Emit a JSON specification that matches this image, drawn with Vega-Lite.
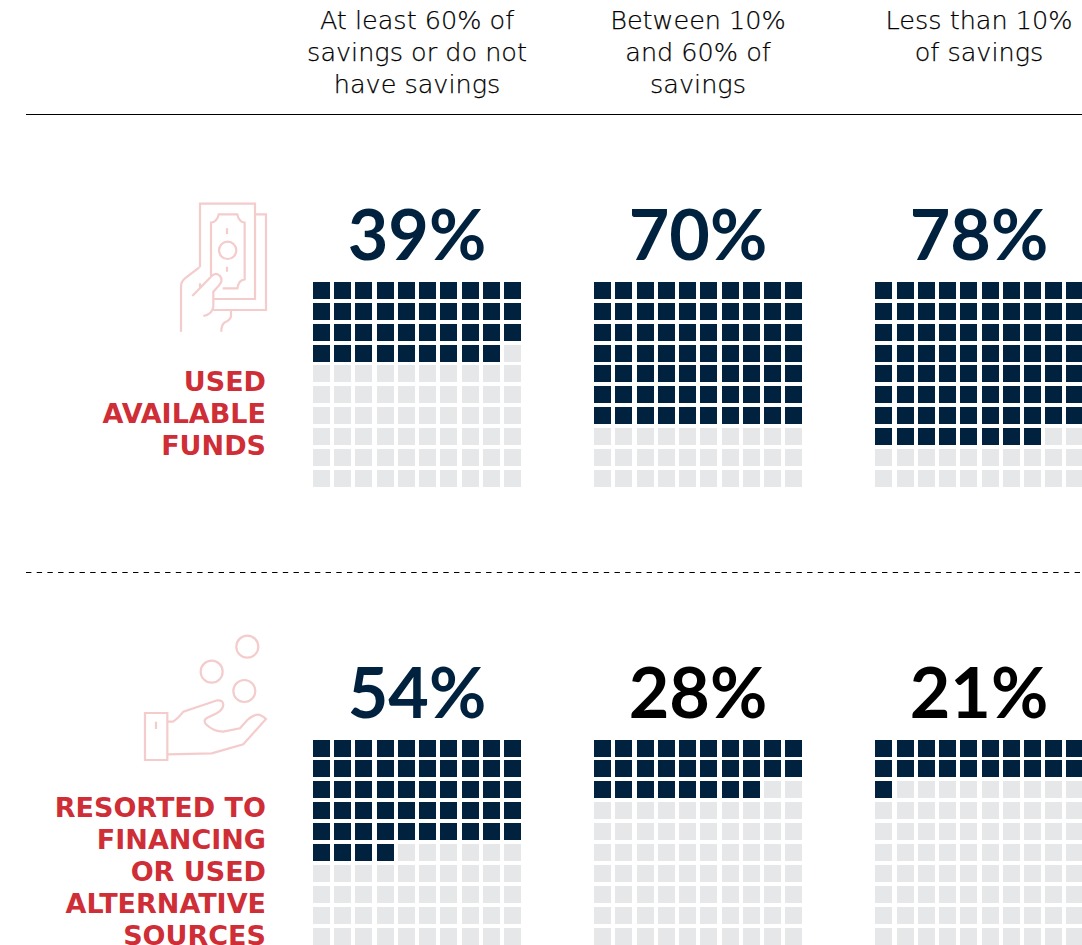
{
"$schema":"https://vega.github.io/schema/vega-lite/v6.json",
"width":1082,"height":945,"padding":0,"autosize":{"type":"none"},
"background":"white",
"config":{"view":{"stroke":null},"axis":{"disable":true},"legend":{"disable":true}},
"datasets":{
"shares":[
{"behaviour":"Used available funds","block":0,"savings":"At least 60% of savings or do not have savings","panel":0,"share":39},
{"behaviour":"Used available funds","block":0,"savings":"Between 10% and 60% of savings","panel":1,"share":70},
{"behaviour":"Used available funds","block":0,"savings":"Less than 10% of savings","panel":2,"share":78},
{"behaviour":"Resorted to financing or used alternative sources","block":1,"savings":"At least 60% of savings or do not have savings","panel":0,"share":54},
{"behaviour":"Resorted to financing or used alternative sources","block":1,"savings":"Between 10% and 60% of savings","panel":1,"share":28},
{"behaviour":"Resorted to financing or used alternative sources","block":1,"savings":"Less than 10% of savings","panel":2,"share":21}
],
"cells":[
{"block":0,"panel":0,"row":0,"col":0,"filled":"yes"},{"block":0,"panel":0,"row":0,"col":1,"filled":"yes"},{"block":0,"panel":0,"row":0,"col":2,"filled":"yes"},{"block":0,"panel":0,"row":0,"col":3,"filled":"yes"},{"block":0,"panel":0,"row":0,"col":4,"filled":"yes"},{"block":0,"panel":0,"row":0,"col":5,"filled":"yes"},{"block":0,"panel":0,"row":0,"col":6,"filled":"yes"},{"block":0,"panel":0,"row":0,"col":7,"filled":"yes"},{"block":0,"panel":0,"row":0,"col":8,"filled":"yes"},{"block":0,"panel":0,"row":0,"col":9,"filled":"yes"},
{"block":0,"panel":0,"row":1,"col":0,"filled":"yes"},{"block":0,"panel":0,"row":1,"col":1,"filled":"yes"},{"block":0,"panel":0,"row":1,"col":2,"filled":"yes"},{"block":0,"panel":0,"row":1,"col":3,"filled":"yes"},{"block":0,"panel":0,"row":1,"col":4,"filled":"yes"},{"block":0,"panel":0,"row":1,"col":5,"filled":"yes"},{"block":0,"panel":0,"row":1,"col":6,"filled":"yes"},{"block":0,"panel":0,"row":1,"col":7,"filled":"yes"},{"block":0,"panel":0,"row":1,"col":8,"filled":"yes"},{"block":0,"panel":0,"row":1,"col":9,"filled":"yes"},
{"block":0,"panel":0,"row":2,"col":0,"filled":"yes"},{"block":0,"panel":0,"row":2,"col":1,"filled":"yes"},{"block":0,"panel":0,"row":2,"col":2,"filled":"yes"},{"block":0,"panel":0,"row":2,"col":3,"filled":"yes"},{"block":0,"panel":0,"row":2,"col":4,"filled":"yes"},{"block":0,"panel":0,"row":2,"col":5,"filled":"yes"},{"block":0,"panel":0,"row":2,"col":6,"filled":"yes"},{"block":0,"panel":0,"row":2,"col":7,"filled":"yes"},{"block":0,"panel":0,"row":2,"col":8,"filled":"yes"},{"block":0,"panel":0,"row":2,"col":9,"filled":"yes"},
{"block":0,"panel":0,"row":3,"col":0,"filled":"yes"},{"block":0,"panel":0,"row":3,"col":1,"filled":"yes"},{"block":0,"panel":0,"row":3,"col":2,"filled":"yes"},{"block":0,"panel":0,"row":3,"col":3,"filled":"yes"},{"block":0,"panel":0,"row":3,"col":4,"filled":"yes"},{"block":0,"panel":0,"row":3,"col":5,"filled":"yes"},{"block":0,"panel":0,"row":3,"col":6,"filled":"yes"},{"block":0,"panel":0,"row":3,"col":7,"filled":"yes"},{"block":0,"panel":0,"row":3,"col":8,"filled":"yes"},{"block":0,"panel":0,"row":3,"col":9,"filled":"no"},
{"block":0,"panel":0,"row":4,"col":0,"filled":"no"},{"block":0,"panel":0,"row":4,"col":1,"filled":"no"},{"block":0,"panel":0,"row":4,"col":2,"filled":"no"},{"block":0,"panel":0,"row":4,"col":3,"filled":"no"},{"block":0,"panel":0,"row":4,"col":4,"filled":"no"},{"block":0,"panel":0,"row":4,"col":5,"filled":"no"},{"block":0,"panel":0,"row":4,"col":6,"filled":"no"},{"block":0,"panel":0,"row":4,"col":7,"filled":"no"},{"block":0,"panel":0,"row":4,"col":8,"filled":"no"},{"block":0,"panel":0,"row":4,"col":9,"filled":"no"},
{"block":0,"panel":0,"row":5,"col":0,"filled":"no"},{"block":0,"panel":0,"row":5,"col":1,"filled":"no"},{"block":0,"panel":0,"row":5,"col":2,"filled":"no"},{"block":0,"panel":0,"row":5,"col":3,"filled":"no"},{"block":0,"panel":0,"row":5,"col":4,"filled":"no"},{"block":0,"panel":0,"row":5,"col":5,"filled":"no"},{"block":0,"panel":0,"row":5,"col":6,"filled":"no"},{"block":0,"panel":0,"row":5,"col":7,"filled":"no"},{"block":0,"panel":0,"row":5,"col":8,"filled":"no"},{"block":0,"panel":0,"row":5,"col":9,"filled":"no"},
{"block":0,"panel":0,"row":6,"col":0,"filled":"no"},{"block":0,"panel":0,"row":6,"col":1,"filled":"no"},{"block":0,"panel":0,"row":6,"col":2,"filled":"no"},{"block":0,"panel":0,"row":6,"col":3,"filled":"no"},{"block":0,"panel":0,"row":6,"col":4,"filled":"no"},{"block":0,"panel":0,"row":6,"col":5,"filled":"no"},{"block":0,"panel":0,"row":6,"col":6,"filled":"no"},{"block":0,"panel":0,"row":6,"col":7,"filled":"no"},{"block":0,"panel":0,"row":6,"col":8,"filled":"no"},{"block":0,"panel":0,"row":6,"col":9,"filled":"no"},
{"block":0,"panel":0,"row":7,"col":0,"filled":"no"},{"block":0,"panel":0,"row":7,"col":1,"filled":"no"},{"block":0,"panel":0,"row":7,"col":2,"filled":"no"},{"block":0,"panel":0,"row":7,"col":3,"filled":"no"},{"block":0,"panel":0,"row":7,"col":4,"filled":"no"},{"block":0,"panel":0,"row":7,"col":5,"filled":"no"},{"block":0,"panel":0,"row":7,"col":6,"filled":"no"},{"block":0,"panel":0,"row":7,"col":7,"filled":"no"},{"block":0,"panel":0,"row":7,"col":8,"filled":"no"},{"block":0,"panel":0,"row":7,"col":9,"filled":"no"},
{"block":0,"panel":0,"row":8,"col":0,"filled":"no"},{"block":0,"panel":0,"row":8,"col":1,"filled":"no"},{"block":0,"panel":0,"row":8,"col":2,"filled":"no"},{"block":0,"panel":0,"row":8,"col":3,"filled":"no"},{"block":0,"panel":0,"row":8,"col":4,"filled":"no"},{"block":0,"panel":0,"row":8,"col":5,"filled":"no"},{"block":0,"panel":0,"row":8,"col":6,"filled":"no"},{"block":0,"panel":0,"row":8,"col":7,"filled":"no"},{"block":0,"panel":0,"row":8,"col":8,"filled":"no"},{"block":0,"panel":0,"row":8,"col":9,"filled":"no"},
{"block":0,"panel":0,"row":9,"col":0,"filled":"no"},{"block":0,"panel":0,"row":9,"col":1,"filled":"no"},{"block":0,"panel":0,"row":9,"col":2,"filled":"no"},{"block":0,"panel":0,"row":9,"col":3,"filled":"no"},{"block":0,"panel":0,"row":9,"col":4,"filled":"no"},{"block":0,"panel":0,"row":9,"col":5,"filled":"no"},{"block":0,"panel":0,"row":9,"col":6,"filled":"no"},{"block":0,"panel":0,"row":9,"col":7,"filled":"no"},{"block":0,"panel":0,"row":9,"col":8,"filled":"no"},{"block":0,"panel":0,"row":9,"col":9,"filled":"no"},
{"block":0,"panel":1,"row":0,"col":0,"filled":"yes"},{"block":0,"panel":1,"row":0,"col":1,"filled":"yes"},{"block":0,"panel":1,"row":0,"col":2,"filled":"yes"},{"block":0,"panel":1,"row":0,"col":3,"filled":"yes"},{"block":0,"panel":1,"row":0,"col":4,"filled":"yes"},{"block":0,"panel":1,"row":0,"col":5,"filled":"yes"},{"block":0,"panel":1,"row":0,"col":6,"filled":"yes"},{"block":0,"panel":1,"row":0,"col":7,"filled":"yes"},{"block":0,"panel":1,"row":0,"col":8,"filled":"yes"},{"block":0,"panel":1,"row":0,"col":9,"filled":"yes"},
{"block":0,"panel":1,"row":1,"col":0,"filled":"yes"},{"block":0,"panel":1,"row":1,"col":1,"filled":"yes"},{"block":0,"panel":1,"row":1,"col":2,"filled":"yes"},{"block":0,"panel":1,"row":1,"col":3,"filled":"yes"},{"block":0,"panel":1,"row":1,"col":4,"filled":"yes"},{"block":0,"panel":1,"row":1,"col":5,"filled":"yes"},{"block":0,"panel":1,"row":1,"col":6,"filled":"yes"},{"block":0,"panel":1,"row":1,"col":7,"filled":"yes"},{"block":0,"panel":1,"row":1,"col":8,"filled":"yes"},{"block":0,"panel":1,"row":1,"col":9,"filled":"yes"},
{"block":0,"panel":1,"row":2,"col":0,"filled":"yes"},{"block":0,"panel":1,"row":2,"col":1,"filled":"yes"},{"block":0,"panel":1,"row":2,"col":2,"filled":"yes"},{"block":0,"panel":1,"row":2,"col":3,"filled":"yes"},{"block":0,"panel":1,"row":2,"col":4,"filled":"yes"},{"block":0,"panel":1,"row":2,"col":5,"filled":"yes"},{"block":0,"panel":1,"row":2,"col":6,"filled":"yes"},{"block":0,"panel":1,"row":2,"col":7,"filled":"yes"},{"block":0,"panel":1,"row":2,"col":8,"filled":"yes"},{"block":0,"panel":1,"row":2,"col":9,"filled":"yes"},
{"block":0,"panel":1,"row":3,"col":0,"filled":"yes"},{"block":0,"panel":1,"row":3,"col":1,"filled":"yes"},{"block":0,"panel":1,"row":3,"col":2,"filled":"yes"},{"block":0,"panel":1,"row":3,"col":3,"filled":"yes"},{"block":0,"panel":1,"row":3,"col":4,"filled":"yes"},{"block":0,"panel":1,"row":3,"col":5,"filled":"yes"},{"block":0,"panel":1,"row":3,"col":6,"filled":"yes"},{"block":0,"panel":1,"row":3,"col":7,"filled":"yes"},{"block":0,"panel":1,"row":3,"col":8,"filled":"yes"},{"block":0,"panel":1,"row":3,"col":9,"filled":"yes"},
{"block":0,"panel":1,"row":4,"col":0,"filled":"yes"},{"block":0,"panel":1,"row":4,"col":1,"filled":"yes"},{"block":0,"panel":1,"row":4,"col":2,"filled":"yes"},{"block":0,"panel":1,"row":4,"col":3,"filled":"yes"},{"block":0,"panel":1,"row":4,"col":4,"filled":"yes"},{"block":0,"panel":1,"row":4,"col":5,"filled":"yes"},{"block":0,"panel":1,"row":4,"col":6,"filled":"yes"},{"block":0,"panel":1,"row":4,"col":7,"filled":"yes"},{"block":0,"panel":1,"row":4,"col":8,"filled":"yes"},{"block":0,"panel":1,"row":4,"col":9,"filled":"yes"},
{"block":0,"panel":1,"row":5,"col":0,"filled":"yes"},{"block":0,"panel":1,"row":5,"col":1,"filled":"yes"},{"block":0,"panel":1,"row":5,"col":2,"filled":"yes"},{"block":0,"panel":1,"row":5,"col":3,"filled":"yes"},{"block":0,"panel":1,"row":5,"col":4,"filled":"yes"},{"block":0,"panel":1,"row":5,"col":5,"filled":"yes"},{"block":0,"panel":1,"row":5,"col":6,"filled":"yes"},{"block":0,"panel":1,"row":5,"col":7,"filled":"yes"},{"block":0,"panel":1,"row":5,"col":8,"filled":"yes"},{"block":0,"panel":1,"row":5,"col":9,"filled":"yes"},
{"block":0,"panel":1,"row":6,"col":0,"filled":"yes"},{"block":0,"panel":1,"row":6,"col":1,"filled":"yes"},{"block":0,"panel":1,"row":6,"col":2,"filled":"yes"},{"block":0,"panel":1,"row":6,"col":3,"filled":"yes"},{"block":0,"panel":1,"row":6,"col":4,"filled":"yes"},{"block":0,"panel":1,"row":6,"col":5,"filled":"yes"},{"block":0,"panel":1,"row":6,"col":6,"filled":"yes"},{"block":0,"panel":1,"row":6,"col":7,"filled":"yes"},{"block":0,"panel":1,"row":6,"col":8,"filled":"yes"},{"block":0,"panel":1,"row":6,"col":9,"filled":"yes"},
{"block":0,"panel":1,"row":7,"col":0,"filled":"no"},{"block":0,"panel":1,"row":7,"col":1,"filled":"no"},{"block":0,"panel":1,"row":7,"col":2,"filled":"no"},{"block":0,"panel":1,"row":7,"col":3,"filled":"no"},{"block":0,"panel":1,"row":7,"col":4,"filled":"no"},{"block":0,"panel":1,"row":7,"col":5,"filled":"no"},{"block":0,"panel":1,"row":7,"col":6,"filled":"no"},{"block":0,"panel":1,"row":7,"col":7,"filled":"no"},{"block":0,"panel":1,"row":7,"col":8,"filled":"no"},{"block":0,"panel":1,"row":7,"col":9,"filled":"no"},
{"block":0,"panel":1,"row":8,"col":0,"filled":"no"},{"block":0,"panel":1,"row":8,"col":1,"filled":"no"},{"block":0,"panel":1,"row":8,"col":2,"filled":"no"},{"block":0,"panel":1,"row":8,"col":3,"filled":"no"},{"block":0,"panel":1,"row":8,"col":4,"filled":"no"},{"block":0,"panel":1,"row":8,"col":5,"filled":"no"},{"block":0,"panel":1,"row":8,"col":6,"filled":"no"},{"block":0,"panel":1,"row":8,"col":7,"filled":"no"},{"block":0,"panel":1,"row":8,"col":8,"filled":"no"},{"block":0,"panel":1,"row":8,"col":9,"filled":"no"},
{"block":0,"panel":1,"row":9,"col":0,"filled":"no"},{"block":0,"panel":1,"row":9,"col":1,"filled":"no"},{"block":0,"panel":1,"row":9,"col":2,"filled":"no"},{"block":0,"panel":1,"row":9,"col":3,"filled":"no"},{"block":0,"panel":1,"row":9,"col":4,"filled":"no"},{"block":0,"panel":1,"row":9,"col":5,"filled":"no"},{"block":0,"panel":1,"row":9,"col":6,"filled":"no"},{"block":0,"panel":1,"row":9,"col":7,"filled":"no"},{"block":0,"panel":1,"row":9,"col":8,"filled":"no"},{"block":0,"panel":1,"row":9,"col":9,"filled":"no"},
{"block":0,"panel":2,"row":0,"col":0,"filled":"yes"},{"block":0,"panel":2,"row":0,"col":1,"filled":"yes"},{"block":0,"panel":2,"row":0,"col":2,"filled":"yes"},{"block":0,"panel":2,"row":0,"col":3,"filled":"yes"},{"block":0,"panel":2,"row":0,"col":4,"filled":"yes"},{"block":0,"panel":2,"row":0,"col":5,"filled":"yes"},{"block":0,"panel":2,"row":0,"col":6,"filled":"yes"},{"block":0,"panel":2,"row":0,"col":7,"filled":"yes"},{"block":0,"panel":2,"row":0,"col":8,"filled":"yes"},{"block":0,"panel":2,"row":0,"col":9,"filled":"yes"},
{"block":0,"panel":2,"row":1,"col":0,"filled":"yes"},{"block":0,"panel":2,"row":1,"col":1,"filled":"yes"},{"block":0,"panel":2,"row":1,"col":2,"filled":"yes"},{"block":0,"panel":2,"row":1,"col":3,"filled":"yes"},{"block":0,"panel":2,"row":1,"col":4,"filled":"yes"},{"block":0,"panel":2,"row":1,"col":5,"filled":"yes"},{"block":0,"panel":2,"row":1,"col":6,"filled":"yes"},{"block":0,"panel":2,"row":1,"col":7,"filled":"yes"},{"block":0,"panel":2,"row":1,"col":8,"filled":"yes"},{"block":0,"panel":2,"row":1,"col":9,"filled":"yes"},
{"block":0,"panel":2,"row":2,"col":0,"filled":"yes"},{"block":0,"panel":2,"row":2,"col":1,"filled":"yes"},{"block":0,"panel":2,"row":2,"col":2,"filled":"yes"},{"block":0,"panel":2,"row":2,"col":3,"filled":"yes"},{"block":0,"panel":2,"row":2,"col":4,"filled":"yes"},{"block":0,"panel":2,"row":2,"col":5,"filled":"yes"},{"block":0,"panel":2,"row":2,"col":6,"filled":"yes"},{"block":0,"panel":2,"row":2,"col":7,"filled":"yes"},{"block":0,"panel":2,"row":2,"col":8,"filled":"yes"},{"block":0,"panel":2,"row":2,"col":9,"filled":"yes"},
{"block":0,"panel":2,"row":3,"col":0,"filled":"yes"},{"block":0,"panel":2,"row":3,"col":1,"filled":"yes"},{"block":0,"panel":2,"row":3,"col":2,"filled":"yes"},{"block":0,"panel":2,"row":3,"col":3,"filled":"yes"},{"block":0,"panel":2,"row":3,"col":4,"filled":"yes"},{"block":0,"panel":2,"row":3,"col":5,"filled":"yes"},{"block":0,"panel":2,"row":3,"col":6,"filled":"yes"},{"block":0,"panel":2,"row":3,"col":7,"filled":"yes"},{"block":0,"panel":2,"row":3,"col":8,"filled":"yes"},{"block":0,"panel":2,"row":3,"col":9,"filled":"yes"},
{"block":0,"panel":2,"row":4,"col":0,"filled":"yes"},{"block":0,"panel":2,"row":4,"col":1,"filled":"yes"},{"block":0,"panel":2,"row":4,"col":2,"filled":"yes"},{"block":0,"panel":2,"row":4,"col":3,"filled":"yes"},{"block":0,"panel":2,"row":4,"col":4,"filled":"yes"},{"block":0,"panel":2,"row":4,"col":5,"filled":"yes"},{"block":0,"panel":2,"row":4,"col":6,"filled":"yes"},{"block":0,"panel":2,"row":4,"col":7,"filled":"yes"},{"block":0,"panel":2,"row":4,"col":8,"filled":"yes"},{"block":0,"panel":2,"row":4,"col":9,"filled":"yes"},
{"block":0,"panel":2,"row":5,"col":0,"filled":"yes"},{"block":0,"panel":2,"row":5,"col":1,"filled":"yes"},{"block":0,"panel":2,"row":5,"col":2,"filled":"yes"},{"block":0,"panel":2,"row":5,"col":3,"filled":"yes"},{"block":0,"panel":2,"row":5,"col":4,"filled":"yes"},{"block":0,"panel":2,"row":5,"col":5,"filled":"yes"},{"block":0,"panel":2,"row":5,"col":6,"filled":"yes"},{"block":0,"panel":2,"row":5,"col":7,"filled":"yes"},{"block":0,"panel":2,"row":5,"col":8,"filled":"yes"},{"block":0,"panel":2,"row":5,"col":9,"filled":"yes"},
{"block":0,"panel":2,"row":6,"col":0,"filled":"yes"},{"block":0,"panel":2,"row":6,"col":1,"filled":"yes"},{"block":0,"panel":2,"row":6,"col":2,"filled":"yes"},{"block":0,"panel":2,"row":6,"col":3,"filled":"yes"},{"block":0,"panel":2,"row":6,"col":4,"filled":"yes"},{"block":0,"panel":2,"row":6,"col":5,"filled":"yes"},{"block":0,"panel":2,"row":6,"col":6,"filled":"yes"},{"block":0,"panel":2,"row":6,"col":7,"filled":"yes"},{"block":0,"panel":2,"row":6,"col":8,"filled":"yes"},{"block":0,"panel":2,"row":6,"col":9,"filled":"yes"},
{"block":0,"panel":2,"row":7,"col":0,"filled":"yes"},{"block":0,"panel":2,"row":7,"col":1,"filled":"yes"},{"block":0,"panel":2,"row":7,"col":2,"filled":"yes"},{"block":0,"panel":2,"row":7,"col":3,"filled":"yes"},{"block":0,"panel":2,"row":7,"col":4,"filled":"yes"},{"block":0,"panel":2,"row":7,"col":5,"filled":"yes"},{"block":0,"panel":2,"row":7,"col":6,"filled":"yes"},{"block":0,"panel":2,"row":7,"col":7,"filled":"yes"},{"block":0,"panel":2,"row":7,"col":8,"filled":"no"},{"block":0,"panel":2,"row":7,"col":9,"filled":"no"},
{"block":0,"panel":2,"row":8,"col":0,"filled":"no"},{"block":0,"panel":2,"row":8,"col":1,"filled":"no"},{"block":0,"panel":2,"row":8,"col":2,"filled":"no"},{"block":0,"panel":2,"row":8,"col":3,"filled":"no"},{"block":0,"panel":2,"row":8,"col":4,"filled":"no"},{"block":0,"panel":2,"row":8,"col":5,"filled":"no"},{"block":0,"panel":2,"row":8,"col":6,"filled":"no"},{"block":0,"panel":2,"row":8,"col":7,"filled":"no"},{"block":0,"panel":2,"row":8,"col":8,"filled":"no"},{"block":0,"panel":2,"row":8,"col":9,"filled":"no"},
{"block":0,"panel":2,"row":9,"col":0,"filled":"no"},{"block":0,"panel":2,"row":9,"col":1,"filled":"no"},{"block":0,"panel":2,"row":9,"col":2,"filled":"no"},{"block":0,"panel":2,"row":9,"col":3,"filled":"no"},{"block":0,"panel":2,"row":9,"col":4,"filled":"no"},{"block":0,"panel":2,"row":9,"col":5,"filled":"no"},{"block":0,"panel":2,"row":9,"col":6,"filled":"no"},{"block":0,"panel":2,"row":9,"col":7,"filled":"no"},{"block":0,"panel":2,"row":9,"col":8,"filled":"no"},{"block":0,"panel":2,"row":9,"col":9,"filled":"no"},
{"block":1,"panel":0,"row":0,"col":0,"filled":"yes"},{"block":1,"panel":0,"row":0,"col":1,"filled":"yes"},{"block":1,"panel":0,"row":0,"col":2,"filled":"yes"},{"block":1,"panel":0,"row":0,"col":3,"filled":"yes"},{"block":1,"panel":0,"row":0,"col":4,"filled":"yes"},{"block":1,"panel":0,"row":0,"col":5,"filled":"yes"},{"block":1,"panel":0,"row":0,"col":6,"filled":"yes"},{"block":1,"panel":0,"row":0,"col":7,"filled":"yes"},{"block":1,"panel":0,"row":0,"col":8,"filled":"yes"},{"block":1,"panel":0,"row":0,"col":9,"filled":"yes"},
{"block":1,"panel":0,"row":1,"col":0,"filled":"yes"},{"block":1,"panel":0,"row":1,"col":1,"filled":"yes"},{"block":1,"panel":0,"row":1,"col":2,"filled":"yes"},{"block":1,"panel":0,"row":1,"col":3,"filled":"yes"},{"block":1,"panel":0,"row":1,"col":4,"filled":"yes"},{"block":1,"panel":0,"row":1,"col":5,"filled":"yes"},{"block":1,"panel":0,"row":1,"col":6,"filled":"yes"},{"block":1,"panel":0,"row":1,"col":7,"filled":"yes"},{"block":1,"panel":0,"row":1,"col":8,"filled":"yes"},{"block":1,"panel":0,"row":1,"col":9,"filled":"yes"},
{"block":1,"panel":0,"row":2,"col":0,"filled":"yes"},{"block":1,"panel":0,"row":2,"col":1,"filled":"yes"},{"block":1,"panel":0,"row":2,"col":2,"filled":"yes"},{"block":1,"panel":0,"row":2,"col":3,"filled":"yes"},{"block":1,"panel":0,"row":2,"col":4,"filled":"yes"},{"block":1,"panel":0,"row":2,"col":5,"filled":"yes"},{"block":1,"panel":0,"row":2,"col":6,"filled":"yes"},{"block":1,"panel":0,"row":2,"col":7,"filled":"yes"},{"block":1,"panel":0,"row":2,"col":8,"filled":"yes"},{"block":1,"panel":0,"row":2,"col":9,"filled":"yes"},
{"block":1,"panel":0,"row":3,"col":0,"filled":"yes"},{"block":1,"panel":0,"row":3,"col":1,"filled":"yes"},{"block":1,"panel":0,"row":3,"col":2,"filled":"yes"},{"block":1,"panel":0,"row":3,"col":3,"filled":"yes"},{"block":1,"panel":0,"row":3,"col":4,"filled":"yes"},{"block":1,"panel":0,"row":3,"col":5,"filled":"yes"},{"block":1,"panel":0,"row":3,"col":6,"filled":"yes"},{"block":1,"panel":0,"row":3,"col":7,"filled":"yes"},{"block":1,"panel":0,"row":3,"col":8,"filled":"yes"},{"block":1,"panel":0,"row":3,"col":9,"filled":"yes"},
{"block":1,"panel":0,"row":4,"col":0,"filled":"yes"},{"block":1,"panel":0,"row":4,"col":1,"filled":"yes"},{"block":1,"panel":0,"row":4,"col":2,"filled":"yes"},{"block":1,"panel":0,"row":4,"col":3,"filled":"yes"},{"block":1,"panel":0,"row":4,"col":4,"filled":"yes"},{"block":1,"panel":0,"row":4,"col":5,"filled":"yes"},{"block":1,"panel":0,"row":4,"col":6,"filled":"yes"},{"block":1,"panel":0,"row":4,"col":7,"filled":"yes"},{"block":1,"panel":0,"row":4,"col":8,"filled":"yes"},{"block":1,"panel":0,"row":4,"col":9,"filled":"yes"},
{"block":1,"panel":0,"row":5,"col":0,"filled":"yes"},{"block":1,"panel":0,"row":5,"col":1,"filled":"yes"},{"block":1,"panel":0,"row":5,"col":2,"filled":"yes"},{"block":1,"panel":0,"row":5,"col":3,"filled":"yes"},{"block":1,"panel":0,"row":5,"col":4,"filled":"no"},{"block":1,"panel":0,"row":5,"col":5,"filled":"no"},{"block":1,"panel":0,"row":5,"col":6,"filled":"no"},{"block":1,"panel":0,"row":5,"col":7,"filled":"no"},{"block":1,"panel":0,"row":5,"col":8,"filled":"no"},{"block":1,"panel":0,"row":5,"col":9,"filled":"no"},
{"block":1,"panel":0,"row":6,"col":0,"filled":"no"},{"block":1,"panel":0,"row":6,"col":1,"filled":"no"},{"block":1,"panel":0,"row":6,"col":2,"filled":"no"},{"block":1,"panel":0,"row":6,"col":3,"filled":"no"},{"block":1,"panel":0,"row":6,"col":4,"filled":"no"},{"block":1,"panel":0,"row":6,"col":5,"filled":"no"},{"block":1,"panel":0,"row":6,"col":6,"filled":"no"},{"block":1,"panel":0,"row":6,"col":7,"filled":"no"},{"block":1,"panel":0,"row":6,"col":8,"filled":"no"},{"block":1,"panel":0,"row":6,"col":9,"filled":"no"},
{"block":1,"panel":0,"row":7,"col":0,"filled":"no"},{"block":1,"panel":0,"row":7,"col":1,"filled":"no"},{"block":1,"panel":0,"row":7,"col":2,"filled":"no"},{"block":1,"panel":0,"row":7,"col":3,"filled":"no"},{"block":1,"panel":0,"row":7,"col":4,"filled":"no"},{"block":1,"panel":0,"row":7,"col":5,"filled":"no"},{"block":1,"panel":0,"row":7,"col":6,"filled":"no"},{"block":1,"panel":0,"row":7,"col":7,"filled":"no"},{"block":1,"panel":0,"row":7,"col":8,"filled":"no"},{"block":1,"panel":0,"row":7,"col":9,"filled":"no"},
{"block":1,"panel":0,"row":8,"col":0,"filled":"no"},{"block":1,"panel":0,"row":8,"col":1,"filled":"no"},{"block":1,"panel":0,"row":8,"col":2,"filled":"no"},{"block":1,"panel":0,"row":8,"col":3,"filled":"no"},{"block":1,"panel":0,"row":8,"col":4,"filled":"no"},{"block":1,"panel":0,"row":8,"col":5,"filled":"no"},{"block":1,"panel":0,"row":8,"col":6,"filled":"no"},{"block":1,"panel":0,"row":8,"col":7,"filled":"no"},{"block":1,"panel":0,"row":8,"col":8,"filled":"no"},{"block":1,"panel":0,"row":8,"col":9,"filled":"no"},
{"block":1,"panel":0,"row":9,"col":0,"filled":"no"},{"block":1,"panel":0,"row":9,"col":1,"filled":"no"},{"block":1,"panel":0,"row":9,"col":2,"filled":"no"},{"block":1,"panel":0,"row":9,"col":3,"filled":"no"},{"block":1,"panel":0,"row":9,"col":4,"filled":"no"},{"block":1,"panel":0,"row":9,"col":5,"filled":"no"},{"block":1,"panel":0,"row":9,"col":6,"filled":"no"},{"block":1,"panel":0,"row":9,"col":7,"filled":"no"},{"block":1,"panel":0,"row":9,"col":8,"filled":"no"},{"block":1,"panel":0,"row":9,"col":9,"filled":"no"},
{"block":1,"panel":1,"row":0,"col":0,"filled":"yes"},{"block":1,"panel":1,"row":0,"col":1,"filled":"yes"},{"block":1,"panel":1,"row":0,"col":2,"filled":"yes"},{"block":1,"panel":1,"row":0,"col":3,"filled":"yes"},{"block":1,"panel":1,"row":0,"col":4,"filled":"yes"},{"block":1,"panel":1,"row":0,"col":5,"filled":"yes"},{"block":1,"panel":1,"row":0,"col":6,"filled":"yes"},{"block":1,"panel":1,"row":0,"col":7,"filled":"yes"},{"block":1,"panel":1,"row":0,"col":8,"filled":"yes"},{"block":1,"panel":1,"row":0,"col":9,"filled":"yes"},
{"block":1,"panel":1,"row":1,"col":0,"filled":"yes"},{"block":1,"panel":1,"row":1,"col":1,"filled":"yes"},{"block":1,"panel":1,"row":1,"col":2,"filled":"yes"},{"block":1,"panel":1,"row":1,"col":3,"filled":"yes"},{"block":1,"panel":1,"row":1,"col":4,"filled":"yes"},{"block":1,"panel":1,"row":1,"col":5,"filled":"yes"},{"block":1,"panel":1,"row":1,"col":6,"filled":"yes"},{"block":1,"panel":1,"row":1,"col":7,"filled":"yes"},{"block":1,"panel":1,"row":1,"col":8,"filled":"yes"},{"block":1,"panel":1,"row":1,"col":9,"filled":"yes"},
{"block":1,"panel":1,"row":2,"col":0,"filled":"yes"},{"block":1,"panel":1,"row":2,"col":1,"filled":"yes"},{"block":1,"panel":1,"row":2,"col":2,"filled":"yes"},{"block":1,"panel":1,"row":2,"col":3,"filled":"yes"},{"block":1,"panel":1,"row":2,"col":4,"filled":"yes"},{"block":1,"panel":1,"row":2,"col":5,"filled":"yes"},{"block":1,"panel":1,"row":2,"col":6,"filled":"yes"},{"block":1,"panel":1,"row":2,"col":7,"filled":"yes"},{"block":1,"panel":1,"row":2,"col":8,"filled":"no"},{"block":1,"panel":1,"row":2,"col":9,"filled":"no"},
{"block":1,"panel":1,"row":3,"col":0,"filled":"no"},{"block":1,"panel":1,"row":3,"col":1,"filled":"no"},{"block":1,"panel":1,"row":3,"col":2,"filled":"no"},{"block":1,"panel":1,"row":3,"col":3,"filled":"no"},{"block":1,"panel":1,"row":3,"col":4,"filled":"no"},{"block":1,"panel":1,"row":3,"col":5,"filled":"no"},{"block":1,"panel":1,"row":3,"col":6,"filled":"no"},{"block":1,"panel":1,"row":3,"col":7,"filled":"no"},{"block":1,"panel":1,"row":3,"col":8,"filled":"no"},{"block":1,"panel":1,"row":3,"col":9,"filled":"no"},
{"block":1,"panel":1,"row":4,"col":0,"filled":"no"},{"block":1,"panel":1,"row":4,"col":1,"filled":"no"},{"block":1,"panel":1,"row":4,"col":2,"filled":"no"},{"block":1,"panel":1,"row":4,"col":3,"filled":"no"},{"block":1,"panel":1,"row":4,"col":4,"filled":"no"},{"block":1,"panel":1,"row":4,"col":5,"filled":"no"},{"block":1,"panel":1,"row":4,"col":6,"filled":"no"},{"block":1,"panel":1,"row":4,"col":7,"filled":"no"},{"block":1,"panel":1,"row":4,"col":8,"filled":"no"},{"block":1,"panel":1,"row":4,"col":9,"filled":"no"},
{"block":1,"panel":1,"row":5,"col":0,"filled":"no"},{"block":1,"panel":1,"row":5,"col":1,"filled":"no"},{"block":1,"panel":1,"row":5,"col":2,"filled":"no"},{"block":1,"panel":1,"row":5,"col":3,"filled":"no"},{"block":1,"panel":1,"row":5,"col":4,"filled":"no"},{"block":1,"panel":1,"row":5,"col":5,"filled":"no"},{"block":1,"panel":1,"row":5,"col":6,"filled":"no"},{"block":1,"panel":1,"row":5,"col":7,"filled":"no"},{"block":1,"panel":1,"row":5,"col":8,"filled":"no"},{"block":1,"panel":1,"row":5,"col":9,"filled":"no"},
{"block":1,"panel":1,"row":6,"col":0,"filled":"no"},{"block":1,"panel":1,"row":6,"col":1,"filled":"no"},{"block":1,"panel":1,"row":6,"col":2,"filled":"no"},{"block":1,"panel":1,"row":6,"col":3,"filled":"no"},{"block":1,"panel":1,"row":6,"col":4,"filled":"no"},{"block":1,"panel":1,"row":6,"col":5,"filled":"no"},{"block":1,"panel":1,"row":6,"col":6,"filled":"no"},{"block":1,"panel":1,"row":6,"col":7,"filled":"no"},{"block":1,"panel":1,"row":6,"col":8,"filled":"no"},{"block":1,"panel":1,"row":6,"col":9,"filled":"no"},
{"block":1,"panel":1,"row":7,"col":0,"filled":"no"},{"block":1,"panel":1,"row":7,"col":1,"filled":"no"},{"block":1,"panel":1,"row":7,"col":2,"filled":"no"},{"block":1,"panel":1,"row":7,"col":3,"filled":"no"},{"block":1,"panel":1,"row":7,"col":4,"filled":"no"},{"block":1,"panel":1,"row":7,"col":5,"filled":"no"},{"block":1,"panel":1,"row":7,"col":6,"filled":"no"},{"block":1,"panel":1,"row":7,"col":7,"filled":"no"},{"block":1,"panel":1,"row":7,"col":8,"filled":"no"},{"block":1,"panel":1,"row":7,"col":9,"filled":"no"},
{"block":1,"panel":1,"row":8,"col":0,"filled":"no"},{"block":1,"panel":1,"row":8,"col":1,"filled":"no"},{"block":1,"panel":1,"row":8,"col":2,"filled":"no"},{"block":1,"panel":1,"row":8,"col":3,"filled":"no"},{"block":1,"panel":1,"row":8,"col":4,"filled":"no"},{"block":1,"panel":1,"row":8,"col":5,"filled":"no"},{"block":1,"panel":1,"row":8,"col":6,"filled":"no"},{"block":1,"panel":1,"row":8,"col":7,"filled":"no"},{"block":1,"panel":1,"row":8,"col":8,"filled":"no"},{"block":1,"panel":1,"row":8,"col":9,"filled":"no"},
{"block":1,"panel":1,"row":9,"col":0,"filled":"no"},{"block":1,"panel":1,"row":9,"col":1,"filled":"no"},{"block":1,"panel":1,"row":9,"col":2,"filled":"no"},{"block":1,"panel":1,"row":9,"col":3,"filled":"no"},{"block":1,"panel":1,"row":9,"col":4,"filled":"no"},{"block":1,"panel":1,"row":9,"col":5,"filled":"no"},{"block":1,"panel":1,"row":9,"col":6,"filled":"no"},{"block":1,"panel":1,"row":9,"col":7,"filled":"no"},{"block":1,"panel":1,"row":9,"col":8,"filled":"no"},{"block":1,"panel":1,"row":9,"col":9,"filled":"no"},
{"block":1,"panel":2,"row":0,"col":0,"filled":"yes"},{"block":1,"panel":2,"row":0,"col":1,"filled":"yes"},{"block":1,"panel":2,"row":0,"col":2,"filled":"yes"},{"block":1,"panel":2,"row":0,"col":3,"filled":"yes"},{"block":1,"panel":2,"row":0,"col":4,"filled":"yes"},{"block":1,"panel":2,"row":0,"col":5,"filled":"yes"},{"block":1,"panel":2,"row":0,"col":6,"filled":"yes"},{"block":1,"panel":2,"row":0,"col":7,"filled":"yes"},{"block":1,"panel":2,"row":0,"col":8,"filled":"yes"},{"block":1,"panel":2,"row":0,"col":9,"filled":"yes"},
{"block":1,"panel":2,"row":1,"col":0,"filled":"yes"},{"block":1,"panel":2,"row":1,"col":1,"filled":"yes"},{"block":1,"panel":2,"row":1,"col":2,"filled":"yes"},{"block":1,"panel":2,"row":1,"col":3,"filled":"yes"},{"block":1,"panel":2,"row":1,"col":4,"filled":"yes"},{"block":1,"panel":2,"row":1,"col":5,"filled":"yes"},{"block":1,"panel":2,"row":1,"col":6,"filled":"yes"},{"block":1,"panel":2,"row":1,"col":7,"filled":"yes"},{"block":1,"panel":2,"row":1,"col":8,"filled":"yes"},{"block":1,"panel":2,"row":1,"col":9,"filled":"yes"},
{"block":1,"panel":2,"row":2,"col":0,"filled":"yes"},{"block":1,"panel":2,"row":2,"col":1,"filled":"no"},{"block":1,"panel":2,"row":2,"col":2,"filled":"no"},{"block":1,"panel":2,"row":2,"col":3,"filled":"no"},{"block":1,"panel":2,"row":2,"col":4,"filled":"no"},{"block":1,"panel":2,"row":2,"col":5,"filled":"no"},{"block":1,"panel":2,"row":2,"col":6,"filled":"no"},{"block":1,"panel":2,"row":2,"col":7,"filled":"no"},{"block":1,"panel":2,"row":2,"col":8,"filled":"no"},{"block":1,"panel":2,"row":2,"col":9,"filled":"no"},
{"block":1,"panel":2,"row":3,"col":0,"filled":"no"},{"block":1,"panel":2,"row":3,"col":1,"filled":"no"},{"block":1,"panel":2,"row":3,"col":2,"filled":"no"},{"block":1,"panel":2,"row":3,"col":3,"filled":"no"},{"block":1,"panel":2,"row":3,"col":4,"filled":"no"},{"block":1,"panel":2,"row":3,"col":5,"filled":"no"},{"block":1,"panel":2,"row":3,"col":6,"filled":"no"},{"block":1,"panel":2,"row":3,"col":7,"filled":"no"},{"block":1,"panel":2,"row":3,"col":8,"filled":"no"},{"block":1,"panel":2,"row":3,"col":9,"filled":"no"},
{"block":1,"panel":2,"row":4,"col":0,"filled":"no"},{"block":1,"panel":2,"row":4,"col":1,"filled":"no"},{"block":1,"panel":2,"row":4,"col":2,"filled":"no"},{"block":1,"panel":2,"row":4,"col":3,"filled":"no"},{"block":1,"panel":2,"row":4,"col":4,"filled":"no"},{"block":1,"panel":2,"row":4,"col":5,"filled":"no"},{"block":1,"panel":2,"row":4,"col":6,"filled":"no"},{"block":1,"panel":2,"row":4,"col":7,"filled":"no"},{"block":1,"panel":2,"row":4,"col":8,"filled":"no"},{"block":1,"panel":2,"row":4,"col":9,"filled":"no"},
{"block":1,"panel":2,"row":5,"col":0,"filled":"no"},{"block":1,"panel":2,"row":5,"col":1,"filled":"no"},{"block":1,"panel":2,"row":5,"col":2,"filled":"no"},{"block":1,"panel":2,"row":5,"col":3,"filled":"no"},{"block":1,"panel":2,"row":5,"col":4,"filled":"no"},{"block":1,"panel":2,"row":5,"col":5,"filled":"no"},{"block":1,"panel":2,"row":5,"col":6,"filled":"no"},{"block":1,"panel":2,"row":5,"col":7,"filled":"no"},{"block":1,"panel":2,"row":5,"col":8,"filled":"no"},{"block":1,"panel":2,"row":5,"col":9,"filled":"no"},
{"block":1,"panel":2,"row":6,"col":0,"filled":"no"},{"block":1,"panel":2,"row":6,"col":1,"filled":"no"},{"block":1,"panel":2,"row":6,"col":2,"filled":"no"},{"block":1,"panel":2,"row":6,"col":3,"filled":"no"},{"block":1,"panel":2,"row":6,"col":4,"filled":"no"},{"block":1,"panel":2,"row":6,"col":5,"filled":"no"},{"block":1,"panel":2,"row":6,"col":6,"filled":"no"},{"block":1,"panel":2,"row":6,"col":7,"filled":"no"},{"block":1,"panel":2,"row":6,"col":8,"filled":"no"},{"block":1,"panel":2,"row":6,"col":9,"filled":"no"},
{"block":1,"panel":2,"row":7,"col":0,"filled":"no"},{"block":1,"panel":2,"row":7,"col":1,"filled":"no"},{"block":1,"panel":2,"row":7,"col":2,"filled":"no"},{"block":1,"panel":2,"row":7,"col":3,"filled":"no"},{"block":1,"panel":2,"row":7,"col":4,"filled":"no"},{"block":1,"panel":2,"row":7,"col":5,"filled":"no"},{"block":1,"panel":2,"row":7,"col":6,"filled":"no"},{"block":1,"panel":2,"row":7,"col":7,"filled":"no"},{"block":1,"panel":2,"row":7,"col":8,"filled":"no"},{"block":1,"panel":2,"row":7,"col":9,"filled":"no"},
{"block":1,"panel":2,"row":8,"col":0,"filled":"no"},{"block":1,"panel":2,"row":8,"col":1,"filled":"no"},{"block":1,"panel":2,"row":8,"col":2,"filled":"no"},{"block":1,"panel":2,"row":8,"col":3,"filled":"no"},{"block":1,"panel":2,"row":8,"col":4,"filled":"no"},{"block":1,"panel":2,"row":8,"col":5,"filled":"no"},{"block":1,"panel":2,"row":8,"col":6,"filled":"no"},{"block":1,"panel":2,"row":8,"col":7,"filled":"no"},{"block":1,"panel":2,"row":8,"col":8,"filled":"no"},{"block":1,"panel":2,"row":8,"col":9,"filled":"no"},
{"block":1,"panel":2,"row":9,"col":0,"filled":"no"},{"block":1,"panel":2,"row":9,"col":1,"filled":"no"},{"block":1,"panel":2,"row":9,"col":2,"filled":"no"},{"block":1,"panel":2,"row":9,"col":3,"filled":"no"},{"block":1,"panel":2,"row":9,"col":4,"filled":"no"},{"block":1,"panel":2,"row":9,"col":5,"filled":"no"},{"block":1,"panel":2,"row":9,"col":6,"filled":"no"},{"block":1,"panel":2,"row":9,"col":7,"filled":"no"},{"block":1,"panel":2,"row":9,"col":8,"filled":"no"},{"block":1,"panel":2,"row":9,"col":9,"filled":"no"}
],
"heads":[
{"panel":0,"lines":["At least 60% of","savings or do not","have savings"]},
{"panel":1,"lines":["Between 10%","and 60% of","savings"]},
{"panel":2,"lines":["Less than 10%","of savings"]}
],
"rows":[
{"block":0,"lines":["USED","AVAILABLE","FUNDS"]},
{"block":1,"lines":["RESORTED TO","FINANCING","OR USED","ALTERNATIVE","SOURCES"]}
]
},
"layer":[
{"data":{"values":[{"name":"header rule"}]},
 "mark":{"type":"rule","stroke":"#000000","strokeWidth":1,"yOffset":-0.5},
 "encoding":{"x":{"datum":-13.525,"type":"quantitative","scale":{"domain":[-14.7502,36.2394],"nice":false,"zero":false,"round":true}},"x2":{"datum":36.2394},"y":{"datum":-7.99,"type":"quantitative","scale":{"domain":[-13.4945,31.7425],"reverse":true,"nice":false,"zero":false,"round":true}}}},
{"data":{"values":[{"name":"block divider"}]},
 "mark":{"type":"rule","stroke":"#000000","strokeWidth":1,"strokeDash":[5.4,5.3],"yOffset":-0.5},
 "encoding":{"x":{"datum":-13.525,"type":"quantitative"},"x2":{"datum":36.2394},"y":{"datum":13.94,"type":"quantitative"}}},
{"data":{"name":"cells"},
 "transform":[
  {"calculate":"datum.panel*13.2526+datum.col","as":"gx"},
  {"calculate":"datum.gx+17/21.22","as":"gx2"},
  {"calculate":"datum.block*21.91+datum.row","as":"gy"},
  {"calculate":"datum.gy+17/20.89","as":"gy2"}
 ],
 "mark":{"type":"rect"},
 "encoding":{
  "x":{"field":"gx","type":"quantitative"},"x2":{"field":"gx2"},
  "y":{"field":"gy","type":"quantitative"},"y2":{"field":"gy2"},
  "color":{"field":"filled","type":"nominal","scale":{"domain":["yes","no"],"range":["#00223e","#e6e7e8"]}}
 }},
{"data":{"name":"shares"},
 "transform":[{"calculate":"datum.panel*13.2526+4.9","as":"gx"},{"calculate":"datum.block*21.91-1.05","as":"gy"},{"calculate":"datum.share+'%'","as":"label"}],
 "mark":{"type":"text","font":"Lato","fontWeight":700,"fontSize":70,"align":"center","baseline":"alphabetic"},
 "encoding":{"x":{"field":"gx","type":"quantitative"},"y":{"field":"gy","type":"quantitative"},"text":{"field":"label"},
  "color":{"condition":{"test":"datum.block==1 && datum.panel>0","value":"#000000"},"value":"#00223e"}}},
{"data":{"name":"heads"},
 "transform":[{"calculate":"datum.panel*13.2526+4.9","as":"gx"}],
 "mark":{"type":"text","font":"DejaVu Sans","fontWeight":300,"fontSize":25.5,"lineHeight":32,"align":"center","baseline":"alphabetic","fill":"#000000","stroke":"#000000","strokeWidth":0.25},
 "encoding":{"x":{"field":"gx","type":"quantitative"},"y":{"datum":-12.1,"type":"quantitative"},"text":{"field":"lines"}}},
{"data":{"name":"rows"},
 "transform":[{"calculate":"datum.block==0?5.22:25.6","as":"gy"}],
 "mark":{"type":"text","font":"DejaVu Sans","fontWeight":700,"fontSize":27,"lineHeight":32,"align":"right","baseline":"alphabetic","color":"#cf2e36"},
 "encoding":{"x":{"datum":-2.2,"type":"quantitative"},"y":{"field":"gy","type":"quantitative"},"text":{"field":"lines"}}},
{"data":{"values":[{"icon":"cash in hand"}]},
 "mark":{"type":"point","filled":false,"size":0.4444,"stroke":"#f4cccc","strokeWidth":2.2,"opacity":1,
 "shape":"M378 73L408 73L408 360L250 360M250 327L375 327L375 41L210 41L210 232M210 280L210 295M243 262L243 98Q262 95 266 73L322 73Q326 95 344 98L344 268Q326 270 322 295L278 295M291 115L291 132M291 230L291 245M319 181A26 26 0 1 1 267 181A26 26 0 1 1 319 181M153 425L153 290Q153 275 165 265L208 232M187 318L245 258Q258 245 270 258Q280 272 268 285L250 305L250 350Q248 372 220 378M303 362L303 380Q300 390 285 397Q274 403 274 425"},
 "encoding":{"x":{"datum":-8.624,"type":"quantitative"},"y":{"datum":-4.399,"type":"quantitative"}}},
{"data":{"values":[{"icon":"coins over open hand"}]},
 "mark":{"type":"point","filled":false,"size":0.4444,"stroke":"#f4cccc","strokeWidth":2.2,"opacity":1,
 "shape":"M385 65A33 33 0 1 1 319 65A33 33 0 1 1 385 65M278 140A33 33 0 1 1 212 140A33 33 0 1 1 278 140M376 198A33 33 0 1 1 310 198A33 33 0 1 1 376 198M45 264L112 264L112 405L45 405ZM78 290L78 312M112 290L128 290Q140 285 160 260L262 226Q280 225 280 240Q278 255 260 265L232 278Q218 285 228 298Q250 320 280 320L330 310L352 285Q375 265 390 270Q402 275 408 282L340 358L245 385L112 388"},
 "encoding":{"x":{"datum":-8.624,"type":"quantitative"},"y":{"datum":16.423,"type":"quantitative"}}}
],
"resolve":{"scale":{"color":"independent"}}
}
